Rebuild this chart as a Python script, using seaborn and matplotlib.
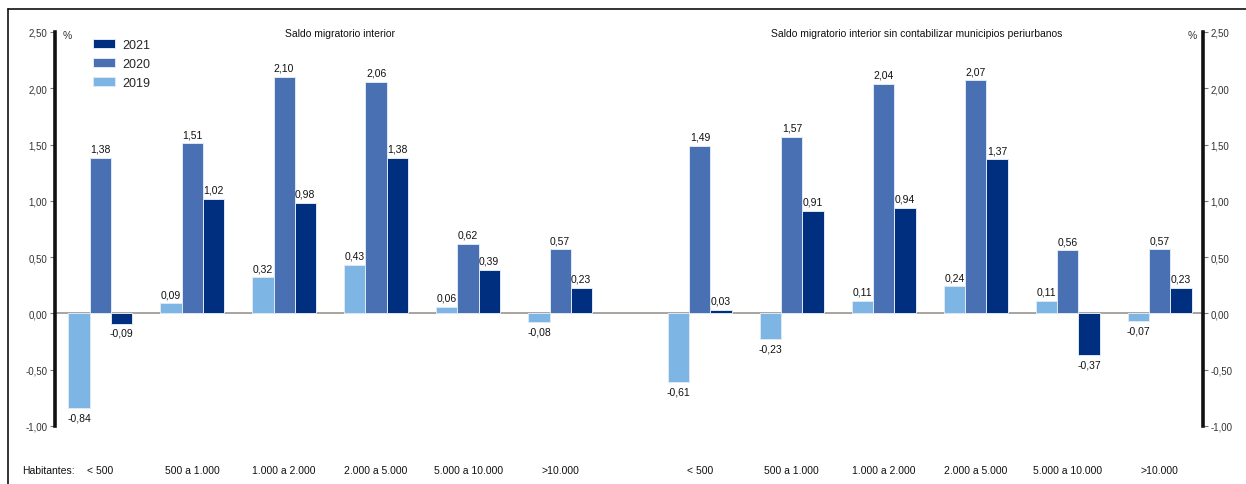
import matplotlib
matplotlib.use("Agg")
import matplotlib.pyplot as plt
from matplotlib.lines import Line2D
from matplotlib.patches import Patch
import seaborn as sns
import pandas as pd

# Population-size bands (municipalities by inhabitants)
bands = ["< 500", "500 a 1.000", "1.000 a 2.000", "2.000 a 5.000", "5.000 a 10.000", ">10.000"]
years = ["2019", "2020", "2021"]

# Internal migration balance (%), all municipalities
total_2019 = [-0.84, 0.09, 0.32, 0.43, 0.06, -0.08]
total_2020 = [1.38, 1.51, 2.10, 2.06, 0.62, 0.57]
total_2021 = [-0.09, 1.02, 0.98, 1.38, 0.39, 0.23]

# Internal migration balance (%), excluding peri-urban municipalities
noperi_2019 = [-0.61, -0.23, 0.11, 0.24, 0.11, -0.07]
noperi_2020 = [1.49, 1.57, 2.04, 2.07, 0.56, 0.57]
noperi_2021 = [0.03, 0.91, 0.94, 1.37, -0.37, 0.23]

titles = ["Saldo migratorio interior",
          "Saldo migratorio interior sin contabilizar municipios periurbanos"]
y_ticks = [-1.0, -0.5, 0.0, 0.5, 1.0, 1.5, 2.0, 2.5]

palette = {"2019": "#7db5e5", "2020": "#4870b2", "2021": "#002f80"}

sns.set_theme(style="white")
plt.rcParams["font.family"] = ["Liberation Sans", "DejaVu Sans"]


def long_table(v19, v20, v21):
    rows = []
    for yr, vals in zip(years, [v19, v20, v21]):
        for b, v in zip(bands, vals):
            rows.append({"band": b, "year": yr, "value": v})
    return pd.DataFrame(rows)


def es(v):
    return f"{v:.2f}".replace(".", ",")


W, H = 1246, 485
fig = plt.figure(figsize=(W / 100, H / 100), dpi=100)

y_bot = (H - 427) / H
y_h = (427 - 33) / H
ax_l = fig.add_axes([55 / W, y_bot, 575 / W, y_h])
ax_r = fig.add_axes([630 / W, y_bot, 573 / W, y_h])

panels = [
    (ax_l, long_table(total_2019, total_2020, total_2021), (-0.49, 5.76)),
    (ax_r, long_table(noperi_2019, noperi_2020, noperi_2021), (-0.76, 5.47)),
]

for ax, df, xl in panels:
    sns.barplot(data=df, x="band", y="value", hue="year", order=bands,
                hue_order=years, palette=palette, width=0.69, ax=ax,
                legend=False, edgecolor="#dfe8f5", linewidth=0.7, saturation=1)
    for cont in ax.containers:
        vals = [bar.get_height() for bar in cont]
        ax.bar_label(cont, labels=[es(v) for v in vals], padding=3,
                     fontsize=7.5, color="#111111")
    ax.axhline(0, color="#a39d98", lw=1.3, zorder=0.5)
    ax.set_ylim(-1.0, 2.5)
    ax.set_xlim(*xl)
    ax.set_xlabel("")
    ax.set_ylabel("")
    ax.set_xticks(range(len(bands)))
    ax.set_xticklabels(bands, fontsize=7.5, color="#111111")
    ax.tick_params(axis="x", length=0, pad=28)
    ax.set_yticks(y_ticks)
    ax.set_yticklabels([es(t) for t in y_ticks], fontsize=7, color="#333333")
    ax.set_facecolor("none")
    for s in ["top", "bottom"]:
        ax.spines[s].set_visible(False)

# Left value axis
ax_l.spines["right"].set_visible(False)
ax_l.spines["left"].set_color("#111111")
ax_l.spines["left"].set_linewidth(2.6)
ax_l.tick_params(axis="y", left=True, length=3.5, width=0.8, color="#777777", pad=2)

# Right value axis
ax_r.spines["left"].set_visible(False)
ax_r.spines["right"].set_color("#111111")
ax_r.spines["right"].set_linewidth(2.6)
ax_r.yaxis.tick_right()
ax_r.tick_params(axis="y", right=True, left=False, length=3.5, width=0.8,
                 color="#777777", pad=2)

# Panel titles and units
fig.text(340 / W, 1 - 34 / H, titles[0], ha="center", va="center",
         fontsize=7.5, color="#111111")
fig.text(917 / W, 1 - 34 / H, titles[1], ha="center", va="center",
         fontsize=7.5, color="#111111")
fig.text(63 / W, 1 - 36 / H, "%", ha="left", va="center", fontsize=7.5, color="#333333")
fig.text(1197 / W, 1 - 36 / H, "%", ha="right", va="center", fontsize=7.5, color="#333333")
fig.text(22 / W, 1 - 471 / H, "Habitantes:", ha="left", va="center",
         fontsize=7.5, color="#111111")

# Legend (newest year on top)
handles = [Patch(facecolor=palette[y], edgecolor="#dfe8f5", linewidth=0.7)
           for y in reversed(years)]
fig.legend(handles, list(reversed(years)), loc="upper left",
           bbox_to_anchor=(93 / W, 1 - 40 / H), frameon=False, fontsize=9,
           handlelength=1.75, handleheight=0.75, labelspacing=0.55,
           handletextpad=0.6, borderpad=0, borderaxespad=0)

# Outer frame (top and left edges)
fig.add_artist(Line2D([8 / W, 1.0], [1 - 10 / H, 1 - 10 / H], color="#111111", lw=1.2))
fig.add_artist(Line2D([8 / W, 8 / W], [0.0, 1 - 10 / H], color="#111111", lw=1.2))

fig.savefig("out.png", dpi=100)
